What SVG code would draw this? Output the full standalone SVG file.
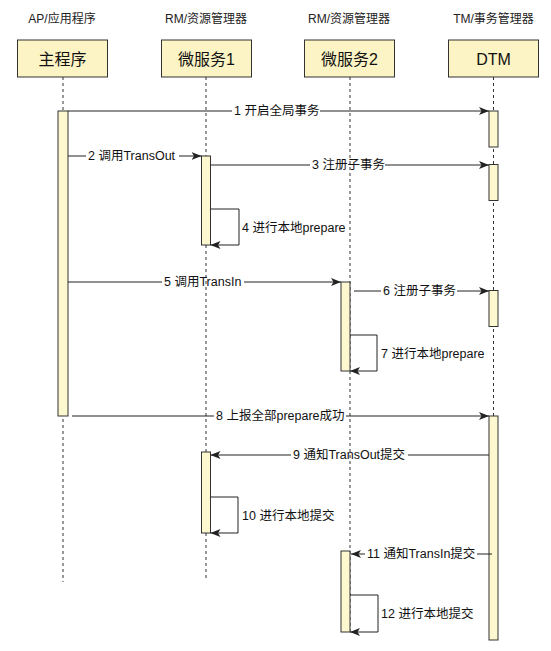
<svg xmlns="http://www.w3.org/2000/svg" width="551" height="651" viewBox="0 0 551 651">
<style>
.hdr{font-family:"Liberation Sans","Noto Sans CJK SC",sans-serif;font-size:12px;fill:#222;text-anchor:middle;dominant-baseline:central}
.box{fill:#fcf4c4;stroke:#333;stroke-width:1}
.boxt{font-family:"Liberation Sans","Noto Sans CJK SC",sans-serif;font-size:16px;fill:#111;text-anchor:middle;dominant-baseline:central}
.life{stroke:#333;stroke-width:1;stroke-dasharray:3 3;fill:none}
.bar{fill:#fdf8cf;stroke:#333;stroke-width:1}
.msg{stroke:#222;stroke-width:1;fill:none}
.lbl{font-family:"Liberation Sans","Noto Sans CJK SC",sans-serif;font-size:12.5px;fill:#111;dominant-baseline:central}
</style>
<defs>
<marker id="arr" markerUnits="userSpaceOnUse" markerWidth="10" markerHeight="8" refX="10" refY="4" orient="auto">
<path d="M0,0 L10,4 L0,8 L2.5,4 z" fill="#222"/>
</marker>
</defs>
<rect width="551" height="651" fill="#fff"/>
<g id="lifelines">
<line class="life" x1="63" y1="77" x2="63" y2="582"/>
<line class="life" x1="206" y1="77" x2="206" y2="578"/>
<line class="life" x1="350" y1="77" x2="350" y2="632"/>
<line class="life" x1="493.5" y1="77" x2="493.5" y2="640"/>
</g>
<g id="node-ap">
<text class="hdr" x="62" y="19">AP/应用程序</text>
<rect class="box" x="17.5" y="40" width="90" height="37"/>
<text class="boxt" x="62.5" y="59">主程序</text>
</g>
<g id="node-ms1">
<text class="hdr" x="206" y="19">RM/资源管理器</text>
<rect class="box" x="161.5" y="40" width="90" height="37"/>
<text class="boxt" x="206.5" y="59">微服务1</text>
</g>
<g id="node-ms2">
<text class="hdr" x="349" y="19">RM/资源管理器</text>
<rect class="box" x="304.5" y="40" width="90" height="37"/>
<text class="boxt" x="349.5" y="59">微服务2</text>
</g>
<g id="node-dtm">
<text class="hdr" x="493.5" y="19">TM/事务管理器</text>
<rect class="box" x="448.5" y="40" width="90" height="37"/>
<text class="boxt" x="493.5" y="59">DTM</text>
</g>
<g id="activations">
<rect class="bar" x="58" y="111" width="10" height="305"/>
<rect class="bar" x="201.5" y="156" width="9" height="89"/>
<rect class="bar" x="201.5" y="452" width="9" height="81"/>
<rect class="bar" x="341" y="282" width="9" height="89"/>
<rect class="bar" x="341" y="551" width="9" height="81"/>
<rect class="bar" x="489" y="111" width="9" height="36"/>
<rect class="bar" x="489" y="164.5" width="9" height="36"/>
<rect class="bar" x="489" y="290.5" width="9" height="36"/>
<rect class="bar" x="489" y="416" width="9" height="224"/>
</g>
<g id="connectors">
<line class="msg" x1="68" y1="111" x2="232" y2="111"/>
<line class="msg" x1="320" y1="111" x2="489" y2="111" marker-end="url(#arr)"/>
<line class="msg" x1="68" y1="156" x2="86" y2="156"/>
<line class="msg" x1="179" y1="156" x2="201.5" y2="156" marker-end="url(#arr)"/>
<line class="msg" x1="210.5" y1="165" x2="310" y2="165"/>
<line class="msg" x1="385" y1="165" x2="489" y2="165" marker-end="url(#arr)"/>
<path class="msg" d="M210.5,209 H239 V245 H210.5" marker-end="url(#arr)"/>
<line class="msg" x1="68" y1="282" x2="162" y2="282"/>
<line class="msg" x1="244" y1="282" x2="341" y2="282" marker-end="url(#arr)"/>
<line class="msg" x1="354" y1="291" x2="381" y2="291"/>
<line class="msg" x1="457" y1="291" x2="489" y2="291" marker-end="url(#arr)"/>
<path class="msg" d="M350,335 H377 V371 H350" marker-end="url(#arr)"/>
<line class="msg" x1="72" y1="416" x2="214" y2="416"/>
<line class="msg" x1="346" y1="416" x2="489" y2="416" marker-end="url(#arr)"/>
<line class="msg" x1="489" y1="455" x2="408" y2="455"/>
<line class="msg" x1="291" y1="455" x2="210.5" y2="455" marker-end="url(#arr)"/>
<path class="msg" d="M210.5,497 H238 V533 H210.5" marker-end="url(#arr)"/>
<line class="msg" x1="492" y1="554" x2="477" y2="554"/>
<line class="msg" x1="365" y1="554" x2="351" y2="554" marker-end="url(#arr)"/>
<path class="msg" d="M350,595 H378 V632 H350" marker-end="url(#arr)"/>
</g>
<g id="labels">
<text class="lbl" x="234" y="111">1 开启全局事务</text>
<text class="lbl" x="88" y="156">2 调用TransOut</text>
<text class="lbl" x="312" y="165">3 注册子事务</text>
<text class="lbl" x="242" y="228">4 进行本地prepare</text>
<text class="lbl" x="164" y="282">5 调用TransIn</text>
<text class="lbl" x="383" y="291">6 注册子事务</text>
<text class="lbl" x="381" y="354">7 进行本地prepare</text>
<text class="lbl" x="216" y="416">8 上报全部prepare成功</text>
<text class="lbl" x="293" y="455">9 通知TransOut提交</text>
<text class="lbl" x="242" y="516">10 进行本地提交</text>
<text class="lbl" x="367" y="554">11 通知TransIn提交</text>
<text class="lbl" x="381" y="614">12 进行本地提交</text>
</g>
</svg>
